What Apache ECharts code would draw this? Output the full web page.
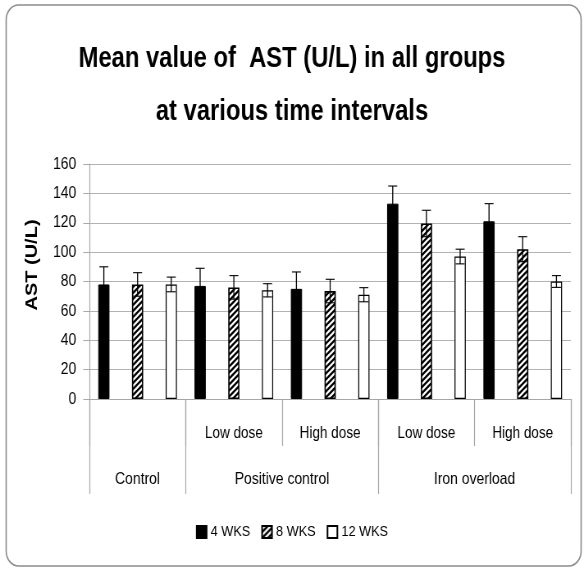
<!DOCTYPE html>
<html>
<head>
<meta charset="utf-8">
<script src="https://cdn.jsdelivr.net/npm/echarts@6/dist/echarts.min.js"></script>
<style>
html,body{margin:0;padding:0;background:#fff;overflow:hidden;width:584px;height:568px;}
#chart{width:712px;height:568px;transform:scaleX(0.8202);transform-origin:0 0;}
</style>
</head>
<body>
<div id="chart"></div>
<script>
// ---- data ----
const categories = ['', 'Low dose', 'High dose', 'Low dose', 'High dose'];
const groupLabels = ['Control', 'Positive control', 'Iron overload'];
const groupSpans = [1, 2, 2];
const seriesNames = ['4 WKS', '8 WKS', '12 WKS'];
const wk4 = [78, 77, 75, 133, 121];
const wk8 = [78, 76, 73.5, 119.5, 102];
const wk12 = [78, 74, 71, 97, 80];
const err4 = [12, 12, 11.5, 12, 12];
const err8 = [8, 8, 8, 9, 8.5];
const err12 = [5, 4.5, 4.8, 5, 4];
const yMin = 0, yMax = 160, yInterval = 20;
const titleText = 'Mean value of  AST (U/L) in all groups\nat various time intervals';
const yName = 'AST (U/L)';

const FONT = 'Liberation Sans, Arial, sans-serif';

// ---- hatch pattern ----
const pat = document.createElement('canvas');
pat.width = 7; pat.height = 6;
(function () {
  const c = pat.getContext('2d');
  c.fillStyle = '#fff'; c.fillRect(0, 0, 7, 6);
  c.strokeStyle = '#000'; c.lineWidth = 2.4;
  c.beginPath();
  for (let k = -1; k <= 1; k++) {
    c.moveTo(k * 7 - 1, 6 + 6 / 7); c.lineTo(k * 7 + 8, -6 / 7);
  }
  c.stroke();
})();

const barWidth = 13.7;
const barGapRatio = 2;
const spacing = barWidth * (1 + barGapRatio);

const values = [wk4, wk8, wk12];
const errs = [err4, err8, err12];
const styles = [
  { color: '#000', borderColor: '#000', borderWidth: 1 },
  { color: { image: pat, repeat: 'repeat' }, borderColor: '#000', borderWidth: 1.6 },
  { color: '#fff', borderColor: '#000', borderWidth: 1.2 }
];

// group centers / bounds on the second (value) axis
const groupCenters = [];
const groupBounds = [0];
let acc = 0;
groupSpans.forEach(function (s) { groupCenters.push(acc + s / 2); acc += s; groupBounds.push(acc); });

const series = [];
seriesNames.forEach(function (n, k) {
  series.push({
    name: n, type: 'bar', xAxisIndex: 0, yAxisIndex: 0,
    data: values[k], barWidth: barWidth, barGap: (barGapRatio * 100) + '%',
    itemStyle: styles[k], emphasis: { disabled: true }, z: 2
  });
});
seriesNames.forEach(function (n, k) {
  series.push({
    name: n + ' err', type: 'custom', xAxisIndex: 0, yAxisIndex: 0, z: 5, clip: false,
    data: values[k].map(function (v, i) { return [i, v, errs[k][i]]; }),
    encode: { x: 0, y: 1 },
    renderItem: function (params, api) {
      const i = api.value(0), v = api.value(1), e = api.value(2);
      const top = api.coord([i, v + e]);
      const bot = api.coord([i, v - e]);
      const cx = top[0] + (k - 1) * spacing;
      const st = { stroke: '#000', lineWidth: 1.1 };
      return {
        type: 'group', children: [
          { type: 'line', shape: { x1: cx, y1: top[1], x2: cx, y2: bot[1] }, style: { stroke: '#000', lineWidth: 1.3 } },
          { type: 'line', shape: { x1: cx - 5.5, y1: top[1], x2: cx + 5.5, y2: top[1] }, style: st },
          { type: 'line', shape: { x1: cx - 5.5, y1: bot[1], x2: cx + 5.5, y2: bot[1] }, style: st }
        ]
      };
    }
  });
});

const gray = '#a6a6a6';
const option = {
  animation: false,
  backgroundColor: '#fff',
  textStyle: { fontFamily: FONT },
  title: {
    text: titleText, left: 'center', top: 27,
    textStyle: { fontFamily: FONT, fontSize: 29, fontWeight: 'bold', color: '#000', lineHeight: 53 }
  },
  legend: {
    data: seriesNames, left: 'center', top: 519, icon: 'rect',
    itemWidth: 12, itemHeight: 12, itemGap: 13.5,
    textStyle: { fontFamily: FONT, fontSize: 15.5, color: '#000' }
  },
  grid: { left: 109, right: 16, top: 164, bottom: 169, containLabel: false },
  xAxis: [
    {
      type: 'category', data: categories, position: 'bottom',
      axisLine: { show: true, lineStyle: { color: gray, width: 1.2 } },
      axisTick: { show: true, interval: 0, length: 47, lineStyle: { color: gray, width: 1.2 } },
      axisLabel: { interval: 0, margin: 26, fontFamily: FONT, fontSize: 16.5, color: '#000' },
      splitLine: { show: false }
    },
    {
      type: 'value', min: 0, max: groupBounds[groupBounds.length - 1], position: 'bottom', offset: 0,
      axisLine: { show: false },
      axisTick: { show: true, customValues: groupBounds, length: 95, lineStyle: { color: gray, width: 1.2 } },
      axisLabel: {
        customValues: groupCenters, margin: 72, fontFamily: FONT, fontSize: 17, color: '#000',
        formatter: function (v) { const idx = groupCenters.indexOf(v); return idx >= 0 ? groupLabels[idx] : ''; }
      },
      splitLine: { show: false }
    }
  ],
  yAxis: {
    type: 'value', min: yMin, max: yMax, interval: yInterval,
    name: yName, nameLocation: 'middle', nameGap: 60, nameRotate: 90,
    nameTextStyle: { fontFamily: FONT, fontWeight: 'bold', fontSize: 20, color: '#000', padding: [0, 0, 0, 33] },
    axisLine: { show: true, lineStyle: { color: gray, width: 1.2 } },
    axisTick: { show: true, length: 7.5, lineStyle: { color: gray } },
    axisLabel: { margin: 16, fontFamily: FONT, fontSize: 17, color: '#000' },
    splitLine: { show: true, lineStyle: { color: '#b3b3b3', width: 1 } }
  },
  graphic: [
    { type: 'rect', z: -10, silent: true, shape: { x: 7.5, y: 5, width: 701, height: 561, r: 15 },
      style: { fill: 'none', stroke: '#8c8c8c', lineWidth: 1.6 } }
  ],
  series: series
};

const chart = echarts.init(document.getElementById('chart'), null, { renderer: 'canvas', width: 712, height: 568 });
chart.setOption(option);
</script>
</body>
</html>
